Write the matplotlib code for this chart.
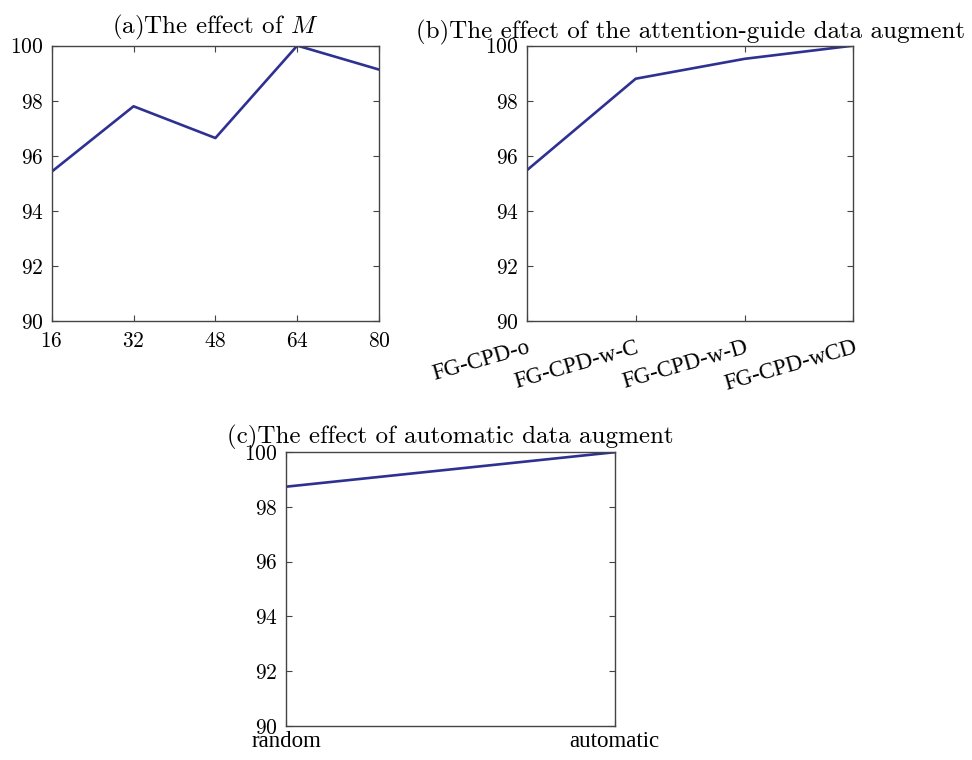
import matplotlib
matplotlib.use("Agg")
import matplotlib.pyplot as plt

plt.rcParams['font.family'] = ['cmr10', 'DejaVu Serif']
plt.rcParams['mathtext.fontset'] = 'cm'
plt.rcParams['axes.formatter.use_mathtext'] = True

# Data
m_values = [16, 32, 48, 64, 80]
acc_m = [95.43, 97.8, 96.65, 100.0, 99.13]

aug_labels = ['FG-CPD-o', 'FG-CPD-w-C', 'FG-CPD-w-D', 'FG-CPD-wCD']
acc_aug = [95.48, 98.8, 99.52, 100.0]

auto_labels = ['random', 'automatic']
acc_auto = [98.74, 100.0]

yticks = [90, 92, 94, 96, 98, 100]

line_color = '#2E3192'
edge_color = '#444444'
tick_fs = 15.5
title_fs = 18
times = ['Liberation Serif', 'DejaVu Serif']

fig = plt.figure(figsize=(9.72, 7.6), dpi=100)
ax_a = fig.add_axes([0.0532, 0.577, 0.3368, 0.363])
ax_b = fig.add_axes([0.542, 0.577, 0.336, 0.363])
ax_c = fig.add_axes([0.2945, 0.045, 0.338, 0.360])

def style(ax):
    ax.set_ylim(90, 100)
    ax.set_yticks(yticks)
    ax.tick_params(direction='in', top=True, right=True, labelsize=tick_fs,
                   length=4, width=0.8, color=edge_color, pad=6)
    for s in ax.spines.values():
        s.set_color(edge_color)
        s.set_linewidth(1.0)

# (a)
style(ax_a)
ax_a.plot(m_values, acc_m, color=line_color, lw=1.9)
ax_a.set_xlim(16, 80)
ax_a.set_xticks(m_values)
ax_a.tick_params(axis='x', pad=7)
ax_a.set_title('(a)The effect of $M$', fontsize=title_fs, pad=9)

# (b)
style(ax_b)
xb = list(range(len(aug_labels)))
ax_b.plot(xb, acc_aug, color=line_color, lw=1.9)
ax_b.set_xlim(0, len(aug_labels) - 1)
ax_b.set_xticks(xb)
ax_b.tick_params(axis='x', pad=11)
ax_b.set_xticklabels(aug_labels, rotation=16, ha='right', rotation_mode='anchor',
                     family=times, fontsize=16.5)
ax_b.set_title('(b)The effect of the attention-guide data augment', fontsize=title_fs, pad=5)

# (c)
style(ax_c)
xc = list(range(len(auto_labels)))
ax_c.plot(xc, acc_auto, color=line_color, lw=1.9)
ax_c.set_xlim(0, 1)
ax_c.set_xticks(xc)
ax_c.tick_params(axis='x', pad=4)
ax_c.set_xticklabels(auto_labels, family=times, fontsize=16.5)
ax_c.set_title('(c)The effect of automatic data augment', fontsize=title_fs, pad=6)

fig.savefig('out.png', dpi=100)
